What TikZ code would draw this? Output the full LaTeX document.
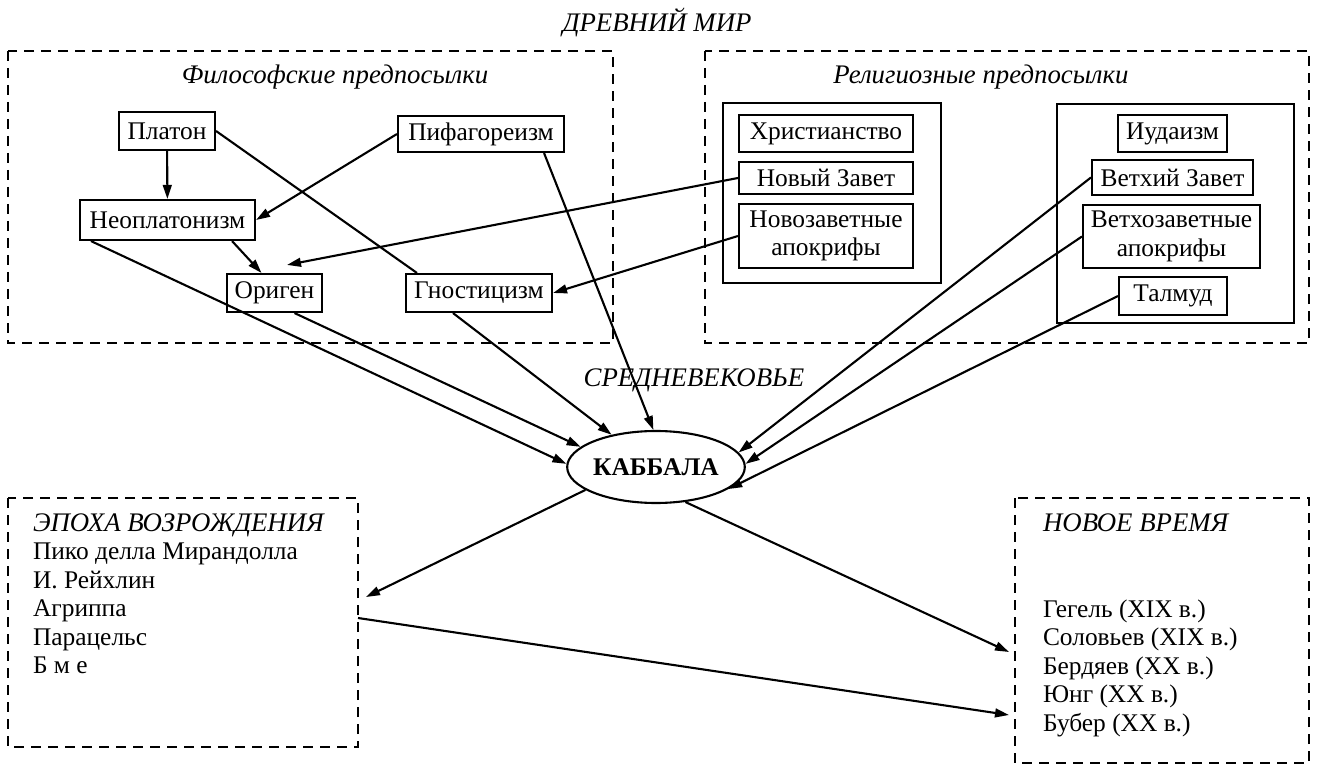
\documentclass[tikz,border=0pt]{standalone}
\usepackage{fontspec}
\setmainfont{Liberation Serif}
\usetikzlibrary{shapes.geometric,calc,arrows.meta}

\begin{document}
\begin{tikzpicture}[x=0.5pt,y=-0.5pt,line width=1.05pt,
  font=\fontsize{12.7}{14.25}\selectfont,
  >={Triangle[length=7pt,width=4.4pt]},
  box/.style={draw,inner sep=0pt,align=center},
  frame/.style={dash pattern=on 5pt off 3.5pt},
  title/.style={font=\fontsize{13.4}{14.25}\selectfont\itshape},
  entry/.style={inner sep=0pt,anchor=base west}]
\useasboundingbox (0,0) rectangle (1319,765);

\node[title] (T0) at (657,23) {ДРЕВНИЙ МИР};
\draw[frame] (8,51) rectangle (613,343);
\draw[frame] (705,51) rectangle (1309,343);
\node[title] (T1) at (335,77) {Философские предпосылки};
\node[title] (T2) at (981,77) {Религиозные предпосылки};

\node[box,minimum width=48pt,minimum height=19pt] (Pl) at (167,131) {Платон};
\node[box,minimum width=83pt,minimum height=18pt] (Pf) at (481,134) {Пифагореизм};
\node[box,minimum width=87.5pt,minimum height=20pt] (Np) at (167.5,220) {Неоплатонизм};
\node[box,minimum width=47.5pt,minimum height=19pt] (Or) at (274.5,293) {Ориген};
\node[box,minimum width=73pt,minimum height=19pt] (Gn) at (479,293) {Гностицизм};

\draw (723,103) rectangle (941,283);
\node[box,minimum width=87pt,minimum height=18.5pt] (Hr) at (826,133.5) {Христианство};
\node[box,minimum width=87pt,minimum height=16pt] (NZ) at (826,178) {Новый Завет};
\node[box,minimum width=87pt,minimum height=32pt] (NA) at (826,236) {Новозаветные\\апокрифы};

\draw (1057,104) rectangle (1294,323);
\node[box,minimum width=54.5pt,minimum height=18.5pt] (Iu) at (1172.5,133.5) {Иудаизм};
\node[box,minimum width=80.5pt,minimum height=17.5pt] (VZ) at (1172.5,177.5) {Ветхий Завет};
\node[box,minimum width=88.5pt,minimum height=31.5pt] (VA) at (1171.5,236.5) {Ветхозаветные\\апокрифы};
\node[box,minimum width=54pt,minimum height=19pt] (Tm) at (1173,296) {Талмуд};

\node[title] (T3) at (694,380) {СРЕДНЕВЕКОВЬЕ};
\node[draw,ellipse,minimum width=84pt,minimum height=36pt,inner sep=0pt,
  font=\fontsize{12.7}{14.25}\selectfont\bfseries] (K) at (656,467) {КАББАЛА};

\draw[frame] (8,498) rectangle (358,747);
\node[title,entry] (T4) at (32,531) {ЭПОХА ВОЗРОЖДЕНИЯ};
\foreach \name [count=\i] in {Пико делла Мирандолла,И. Рейхлин,Агриппа,Парацельс,Б м е}
  \node[entry] (R\i) at (32,{531+28.5*\i}) {\name};

\draw[frame] (1015,498) rectangle (1309,763);
\node[title,entry] (T5) at (1042,531) {НОВОЕ ВРЕМЯ};
\foreach \name [count=\i] in {Гегель (XIX в.),Соловьев (XIX в.),Бердяев (XX в.),Юнг (XX в.),Бубер (XX в.)}
  \node[entry] (M\i) at (1042,{588.5+28.5*\i}) {\name};

\coordinate (C1) at (366,597);
\coordinate (C2) at (1009,652);
\coordinate (C3) at (358,618);
\coordinate (C4) at (1009,715);

\draw[->] (Pl) -- (Np);
\draw[->] (Pf.west) -- (Np.east);
\draw[->] ($(Np.south east)+(-24,0)$) -- ($(Or.north)+(-13,0)$);
\draw (Pl.east) -- ($(Gn.north west)+(12,0)$);
\draw[->] (NZ.west) -- ($(Or.north)+(12.5,-8)$);
\draw[->] (NA.west) -- (Gn.east);
\draw[->] ($(Np.south west)+(12,0)$) -- (K.178);
\draw[->] ($(Or.south)+(20,0)$) -- (K.165);
\draw[->] ($(Gn.south)+(-26,0)$) -- (K.144);
\draw[->] ($(Pf.south east)+(-21,0)$) -- (K.94);
\draw[->] (VZ.west) -- (K.10);
\draw[->] (VA.west) -- (K.2);
\draw[->] (Tm.west) -- (K.-17);
\draw[->] (K.198) -- (C1);
\draw[->] (K.-50) -- (C2);
\draw[->] (C3) -- (C4);

\end{tikzpicture}
\end{document}
